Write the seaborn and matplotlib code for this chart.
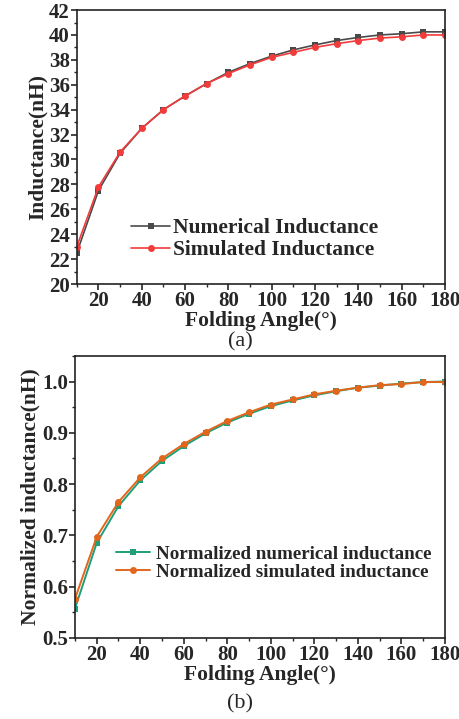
import numpy as np
import pandas as pd
import matplotlib
matplotlib.use("Agg")
import matplotlib.pyplot as plt
from matplotlib.ticker import MultipleLocator
import seaborn as sns

angles = [10, 20, 30, 40, 50, 60, 70, 80, 90, 100, 110, 120, 130, 140, 150, 160, 170, 180]
numerical_L = [22.5, 27.5, 30.5, 32.5, 34.0, 35.1, 36.1, 37.0, 37.7, 38.3, 38.8, 39.2,
               39.55, 39.8, 40.0, 40.1, 40.25, 40.25]
simulated_L = [23.0, 27.8, 30.6, 32.5, 34.0, 35.1, 36.1, 36.9, 37.6, 38.2, 38.6, 39.0,
               39.3, 39.55, 39.75, 39.85, 40.0, 40.0]
norm_numerical = [0.557, 0.685, 0.757, 0.807, 0.845, 0.874, 0.899, 0.920, 0.937, 0.952,
                  0.963, 0.973, 0.981, 0.988, 0.992, 0.996, 0.999, 1.0]
norm_simulated = [0.576, 0.697, 0.765, 0.813, 0.850, 0.878, 0.902, 0.923, 0.940, 0.955,
                  0.965, 0.975, 0.982, 0.988, 0.993, 0.995, 0.999, 0.999]

names_a = ["Numerical Inductance", "Simulated Inductance"]
names_b = ["Normalized numerical inductance", "Normalized simulated inductance"]

sns.set_theme(style="ticks")
plt.rcParams['font.family'] = ['Liberation Serif', 'DejaVu Serif']
plt.rcParams['font.weight'] = 'bold'
plt.rcParams['axes.labelweight'] = 'bold'

df_a = pd.DataFrame({
    "angle": angles * 2,
    "value": numerical_L + simulated_L,
    "series": [names_a[0]] * len(angles) + [names_a[1]] * len(angles),
})
df_b = pd.DataFrame({
    "angle": angles * 2,
    "value": norm_numerical + norm_simulated,
    "series": [names_b[0]] * len(angles) + [names_b[1]] * len(angles),
})

fig = plt.figure(figsize=(4.6, 7.19), dpi=100)
ax1 = fig.add_axes([0.167, 0.605, 0.800, 0.381])
ax2 = fig.add_axes([0.163, 0.113, 0.804, 0.392])

sns.lineplot(data=df_a, x="angle", y="value", hue="series", style="series",
             palette={names_a[0]: "#4a4a4a", names_a[1]: "#f23c3c"},
             markers={names_a[0]: "s", names_a[1]: "o"}, dashes=False,
             markersize=5, markeredgewidth=0, linewidth=1.2, ax=ax1)
sns.lineplot(data=df_b, x="angle", y="value", hue="series", style="series",
             palette={names_b[0]: "#1f9e78", names_b[1]: "#e2661c"},
             markers={names_b[0]: "s", names_b[1]: "o"}, dashes=False,
             markersize=5, markeredgewidth=0, linewidth=1.4, ax=ax2)

ax1.set_xlim(10, 180)
ax1.set_ylim(20, 42)
ax1.yaxis.set_major_locator(MultipleLocator(2))
ax1.yaxis.set_minor_locator(MultipleLocator(1))
ax2.set_xlim(10, 180)
ax2.set_ylim(0.5, 1.05)
ax2.yaxis.set_major_locator(MultipleLocator(0.1))
ax2.yaxis.set_minor_locator(MultipleLocator(0.05))

for ax, ylab in [(ax1, "Inductance(nH)"), (ax2, "Normalized inductance(nH)")]:
    ax.set_xticks([20, 40, 60, 80, 100, 120, 140, 160, 180])
    ax.xaxis.set_minor_locator(MultipleLocator(10))
    ax.tick_params(axis="both", which="major", direction="out", length=4, width=1.2,
                   labelsize=15, pad=1, top=False, right=False)
    ax.tick_params(axis="both", which="minor", direction="out", length=2.5, width=1.0,
                   top=False, right=False)
    for lab in ax.get_xticklabels() + ax.get_yticklabels():
        lab.set_fontweight("bold")
    for sp in ax.spines.values():
        sp.set_visible(True)
        sp.set_linewidth(1.2)
        sp.set_color("#222222")
    ax.set_xlabel("Folding Angle(°)", fontsize=15.5, fontweight="bold", labelpad=0)
    ax.set_ylabel(ylab, fontsize=15.5, fontweight="bold", labelpad=1)

ax2.yaxis.set_major_formatter(matplotlib.ticker.FormatStrFormatter("%.1f"))

leg1 = ax1.legend(loc="lower left", bbox_to_anchor=(0.125, 0.055), frameon=False,
                  prop={"size": 15.5, "weight": "bold"}, handlelength=1.8,
                  handletextpad=0.15, labelspacing=0.1, borderaxespad=0)
leg2 = ax2.legend(loc="lower left", bbox_to_anchor=(0.09, 0.175), frameon=False,
                  prop={"size": 13.7, "weight": "bold"}, handlelength=1.8,
                  handletextpad=0.3, labelspacing=0.05, borderaxespad=0)

fig.text(0.522, 1 - 342 / 719, "(a)", ha="center", va="center", fontsize=16, fontweight="normal")
fig.text(0.522, 1 - 704 / 719, "(b)", ha="center", va="center", fontsize=16, fontweight="normal")

fig.savefig("out.png", dpi=100)
